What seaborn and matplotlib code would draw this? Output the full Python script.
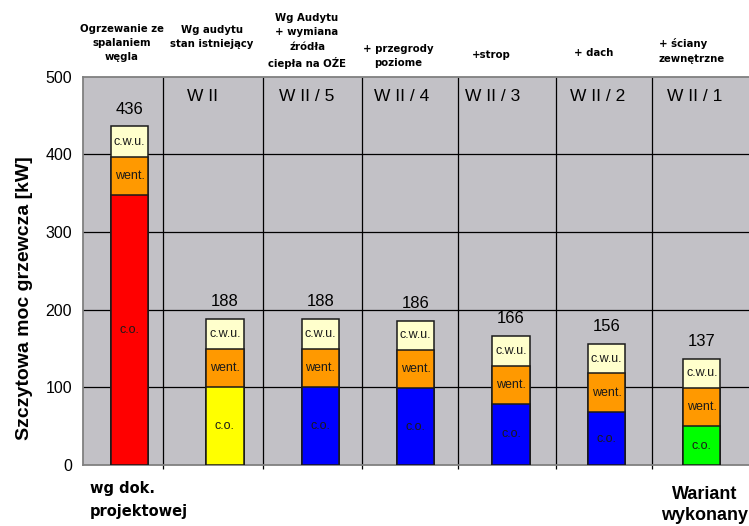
import matplotlib
matplotlib.use('Agg')
import matplotlib.pyplot as plt
import seaborn as sns
import pandas as pd

# ---- data ----
variants = ['W I', 'W II', 'W II / 5', 'W II / 4', 'W II / 3', 'W II / 2', 'W II / 1']
variant_labels = ['', 'W II', 'W II / 5', 'W II / 4', 'W II / 3', 'W II / 2', 'W II / 1']
co = [348, 100, 100, 99, 79, 68, 50]
went = [49, 50, 50, 49, 49, 50, 49]
cwu = [39, 38, 38, 38, 38, 38, 38]
headers = ['Ogrzewanie ze\nspalaniem\nwęgla',
           'Wg audytu\nstan istniejący',
           'Wg Audytu\n+ wymiana\nźródła\nciepła na OŹE',
           '+ przegrody\npoziome',
           '+strop',
           '+ dach',
           '+ ściany\nzewnętrzne']
co_colors = ['#FF0000', '#FFFF00', '#0000FF', '#0000FF', '#0000FF', '#0000FF', '#00FF00']
went_color = '#FF9900'
cwu_color = '#FFFFCC'
seg_names = ['c.o.', 'went.', 'c.w.u.']
y_ticks = [0, 100, 200, 300, 400, 500]
ylabel = 'Szczytowa moc grzewcza [kW]'

# ---- layout constants ----
W, H = 749, 526
sep_x = [0.352, 1.399, 2.439, 3.447, 4.473, 5.473]
label_x = [0.0, 0.76, 1.855, 2.85, 3.808, 4.91, 5.93]
header_pos = [(122, 43), (212, 37), (307, 41), (398, 56), (491, 55), (594, 53), (692, 51)]

totals = [a + b + c for a, b, c in zip(co, went, cwu)]
mid = [a + b for a, b in zip(co, went)]

df = pd.DataFrame({'variant': variants, 'co': co, 'mid': mid, 'total': totals})

sns.set_style('white')
plt.rcParams['font.family'] = ['Liberation Sans', 'DejaVu Sans']
plt.rcParams['text.color'] = 'black'
plt.rcParams['axes.labelcolor'] = 'black'
plt.rcParams['ytick.labelcolor'] = 'black'

fig = plt.figure(figsize=(W / 100, H / 100), dpi=100)
ax = fig.add_axes([83 / W, 1 - 465 / H, (W - 83) / W + 0.002, (465 - 76.7) / H])
ax.set_facecolor('#C2C1C6')

bw = 0.39
edge = dict(edgecolor='#1a1a1a', linewidth=1.1, saturation=1)
sns.barplot(data=df, x='variant', y='total', order=variants, color=cwu_color,
            width=bw, errorbar=None, ax=ax, zorder=3, **edge)
sns.barplot(data=df, x='variant', y='mid', order=variants, color=went_color,
            width=bw, errorbar=None, ax=ax, zorder=4, **edge)
sns.barplot(data=df, x='variant', y='co', order=variants, hue='variant',
            hue_order=variants, palette=co_colors, legend=False,
            width=bw, errorbar=None, ax=ax, zorder=5, **edge)

ax.set_xlim(-0.488, 6.51)
ax.set_ylim(0, 500)
ax.set_yticks(y_ticks)
ax.set_yticklabels([str(t) for t in y_ticks], fontsize=11.5, color='black')
ax.set_xticks([])
ax.set_xlabel('')
ax.set_ylabel('')

for y in y_ticks[1:-1]:
    ax.axhline(y, color='black', lw=0.9, zorder=1)
ax.vlines(sep_x, -5, 500, colors='black', lw=0.9, zorder=1, clip_on=False)

for s in ['left', 'bottom', 'top']:
    ax.spines[s].set_color('#808080')
    ax.spines[s].set_linewidth(1.3)
ax.spines['right'].set_visible(False)
ax.tick_params(axis='y', length=6, color='#808080', width=1.3, pad=2)

# segment labels
for i in range(len(variants)):
    segs = [(0, co[i]), (co[i], mid[i]), (mid[i], totals[i])]
    for (b, t), name in zip(segs, seg_names):
        ax.text(i, (b + t) / 2, name, ha='center', va='center', fontsize=9,
                color='#1a1a1a', zorder=6)
    ax.text(i, totals[i] + 22, str(totals[i]), ha='center', va='center',
            fontsize=12, color='black', zorder=6)
    if variant_labels[i]:
        ax.text(label_x[i], 474, variant_labels[i], ha='center', va='center',
                fontsize=12.5, color='black', zorder=6)

# headers above
for txt, (px, py) in zip(headers, header_pos):
    fig.text(px / W, 1 - py / H, txt, ha='center', va='center', fontsize=7.3,
             fontweight='bold', family=['DejaVu Sans'], linespacing=1.55,
             color='black',
             multialignment='left' if txt.startswith('+ ści') else 'center')

fig.text(25 / W, 1 - 298 / H, ylabel, rotation=90, ha='center', va='center',
         fontsize=14, fontweight='bold', color='black')

fig.text(90 / W, 1 - 500 / H, 'wg dok.\nprojektowej', ha='left', va='center',
         fontsize=10.5, fontweight='bold', family=['DejaVu Sans'], linespacing=1.6,
         color='black')
fig.text(705 / W, 1 - 505 / H, 'Wariant\nwykonany', ha='center', va='center',
         fontsize=13, fontweight='bold', linespacing=1.3, color='black')

fig.savefig('out.png', dpi=100)
